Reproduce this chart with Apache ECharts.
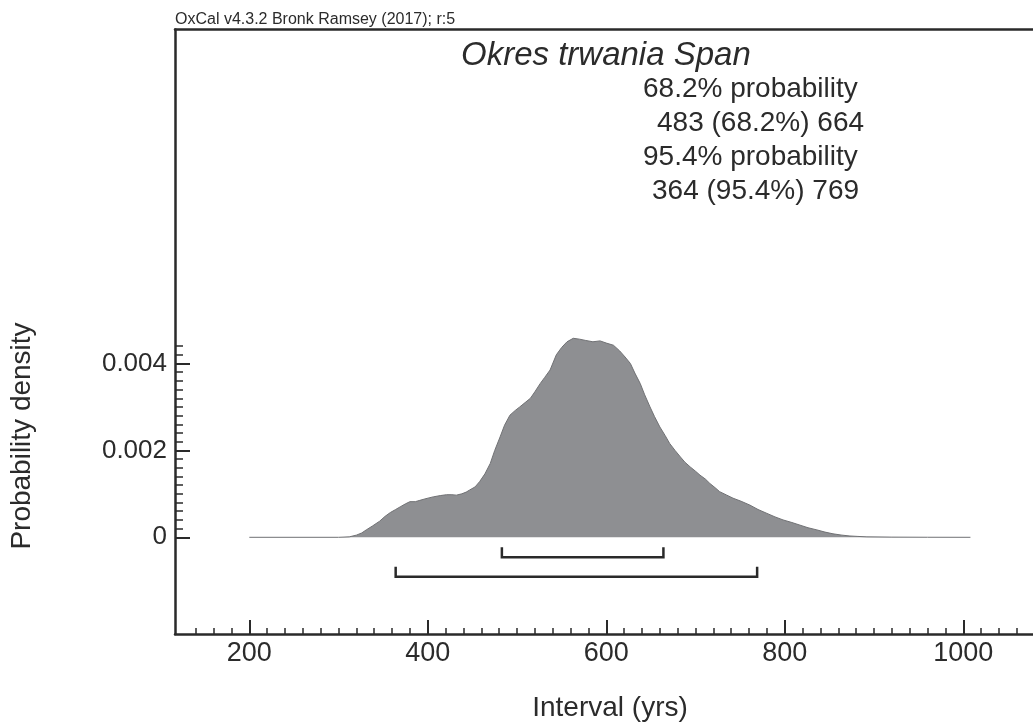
<!DOCTYPE html>
<html>
<head>
<meta charset="utf-8">
<script src="https://cdn.jsdelivr.net/npm/echarts@6/dist/echarts.min.js"></script>
<style>
html,body{margin:0;padding:0;background:#fff;}
#chart{width:1033px;height:724px;}
</style>
</head>
<body>
<div id="chart"></div>
<script>
// ---- data ----
var spanYears = [200, 300, 312, 320, 326, 331, 338, 346, 352, 358, 364, 369, 375, 380, 386, 391, 398, 406, 414, 421, 427, 432, 438, 443, 447, 453, 458, 464, 470, 475, 481, 486, 492, 498, 503, 509, 515, 520, 526, 531, 537, 544, 550, 556, 563, 570, 577, 585, 593, 600, 608, 615, 621, 627, 632, 638, 643, 649, 654, 660, 666, 671, 677, 683, 688, 694, 700, 705, 711, 716, 722, 727, 735, 742, 751, 761, 770, 780, 789, 798, 808, 817, 826, 836, 845, 854, 864, 873, 882, 892, 920, 960, 1008];
var spanDensity = [0, 0, 0.00001, 0.00005, 0.0001, 0.00017, 0.00026, 0.00037, 0.00048, 0.00057, 0.00064, 0.0007, 0.00077, 0.00082, 0.00082, 0.00085, 0.00089, 0.00093, 0.00096, 0.00098, 0.00098, 0.00097, 0.001, 0.00104, 0.00109, 0.00116, 0.00128, 0.00146, 0.0017, 0.002, 0.00231, 0.00258, 0.00281, 0.00292, 0.003, 0.0031, 0.0032, 0.00335, 0.00354, 0.00368, 0.00385, 0.0042, 0.00437, 0.0045, 0.00458, 0.00456, 0.00453, 0.0045, 0.00452, 0.00447, 0.00442, 0.00429, 0.00415, 0.004, 0.00378, 0.00354, 0.00328, 0.003, 0.00278, 0.00254, 0.00234, 0.00216, 0.002, 0.00185, 0.00173, 0.00162, 0.00152, 0.00143, 0.00134, 0.00124, 0.00114, 0.00105, 0.00097, 0.0009, 0.00083, 0.00074, 0.00064, 0.00055, 0.00047, 0.0004, 0.00034, 0.00028, 0.00022, 0.00017, 0.00012, 0.00008, 0.00005, 0.00003, 0.00002, 0.00001, 0.000004, 0.000001, 0];
var range68 = [483, 664];
var range95 = [364, 769];
var xTickLabels = [200, 400, 600, 800, 1000];
var yTickLabels = [0, 0.002, 0.004];

// ---- derived ----
var curve = spanYears.map(function (x, i) { return [x, spanDensity[i]]; });
var xMinor = [];
for (var v = 140; v <= 1060; v += 20) { if (v % 200 !== 0) xMinor.push(v); }
var yMinor = [];
for (var k = 1; k <= 22; k++) { if (k % 10 !== 0) yMinor.push(+(k * 0.0002).toFixed(4)); }

var lvl68 = [-0.00023, -0.00046];
var lvl95 = [-0.00068, -0.00091];
function bracket(r, lv) {
  return [[r[0], lv[0]], [r[0], lv[1]], [r[1], lv[1]], [r[1], lv[0]]];
}

var FONT = '"Liberation Sans", Arial, Helvetica, sans-serif';
var TXT = '#2b2b2b';
var AX = '#2a2a2a';

var chart = echarts.init(document.getElementById('chart'), null, {renderer: 'canvas'});
var xMin = 116.75, xMax = 1078.1;
var yMin = -0.0022256, yMax = 0.011687;

var option = {
  animation: false,
  backgroundColor: '#ffffff',
  grid: {left: 175, top: 29.5, right: 0, bottom: 90, containLabel: false},
  xAxis: [
    {
      type: 'value', min: xMin, max: xMax, position: 'bottom',
      axisLine: {show: true, onZero: false, lineStyle: {color: AX, width: 2.5}},
      axisTick: {show: true, inside: true, length: 14, customValues: xTickLabels, lineStyle: {color: AX, width: 2}},
      axisLabel: {show: true, customValues: xTickLabels, margin: 6, fontSize: 27, color: TXT, fontFamily: FONT,
        formatter: function (val) { return String(val); }},
      splitLine: {show: false}
    },
    {
      type: 'value', min: xMin, max: xMax, position: 'bottom',
      axisLine: {show: false, onZero: false},
      axisTick: {show: true, inside: true, length: 6, customValues: xMinor, lineStyle: {color: AX, width: 1.5}},
      axisLabel: {show: false},
      splitLine: {show: false}
    },
    {
      type: 'value', min: xMin, max: xMax, position: 'top',
      axisLine: {show: true, onZero: false, lineStyle: {color: AX, width: 2.5}},
      axisTick: {show: false}, axisLabel: {show: false}, splitLine: {show: false}
    }
  ],
  yAxis: [
    {
      type: 'value', min: yMin, max: yMax, position: 'left',
      axisLine: {show: true, onZero: false, lineStyle: {color: AX, width: 2.5}},
      axisTick: {show: true, inside: true, length: 15, customValues: yTickLabels, lineStyle: {color: AX, width: 2}},
      axisLabel: {show: true, customValues: yTickLabels, margin: 8, fontSize: 26, color: TXT, fontFamily: FONT,
        formatter: function (val) { return String(val); }},
      splitLine: {show: false}
    },
    {
      type: 'value', min: yMin, max: yMax, position: 'left',
      axisLine: {show: false, onZero: false},
      axisTick: {show: true, inside: true, length: 8, customValues: yMinor, lineStyle: {color: AX, width: 1.5}},
      axisLabel: {show: false},
      splitLine: {show: false}
    }
  ],
  series: [
    {
      type: 'line', xAxisIndex: 0, yAxisIndex: 0, data: curve, showSymbol: false, symbol: 'none',
      lineStyle: {color: '#707174', width: 1},
      areaStyle: {color: '#8e8f92', opacity: 1, origin: 'auto'},
      z: 2
    },
    {
      type: 'line', xAxisIndex: 0, yAxisIndex: 0, data: bracket(range68, lvl68), showSymbol: false, symbol: 'none',
      lineStyle: {color: '#2a2a2a', width: 2.5, join: 'miter'}, z: 3
    },
    {
      type: 'line', xAxisIndex: 0, yAxisIndex: 0, data: bracket(range95, lvl95), showSymbol: false, symbol: 'none',
      lineStyle: {color: '#2a2a2a', width: 2.5, join: 'miter'}, z: 3
    }
  ],
  graphic: [
    {type: 'text', left: 175, top: 12, style: {text: 'OxCal v4.3.2 Bronk Ramsey (2017); r:5', font: '16px ' + FONT, fill: TXT}},
    {type: 'text', x: 461, y: 56, style: {text: 'Okres trwania Span', font: 'italic 33px ' + FONT, fill: TXT, textAlign: 'left', textVerticalAlign: 'middle'}},
    {type: 'text', x: 643, y: 89, style: {text: '68.2% probability', font: '28px ' + FONT, fill: TXT, textAlign: 'left', textVerticalAlign: 'middle'}},
    {type: 'text', x: 657, y: 123, style: {text: range68[0] + ' (68.2%) ' + range68[1], font: '28px ' + FONT, fill: TXT, textAlign: 'left', textVerticalAlign: 'middle'}},
    {type: 'text', x: 643, y: 157, style: {text: '95.4% probability', font: '28px ' + FONT, fill: TXT, textAlign: 'left', textVerticalAlign: 'middle'}},
    {type: 'text', x: 652, y: 191, style: {text: range95[0] + ' (95.4%) ' + range95[1], font: '28px ' + FONT, fill: TXT, textAlign: 'left', textVerticalAlign: 'middle'}},
    {type: 'text', x: 610, y: 708, style: {text: 'Interval (yrs)', font: '28px ' + FONT, fill: TXT, textAlign: 'center', textVerticalAlign: 'middle'}},
    {type: 'text', x: 22.5, y: 436, rotation: Math.PI / 2, style: {text: 'Probability density', font: '28px ' + FONT, fill: TXT, textAlign: 'center', textVerticalAlign: 'middle'}}
  ]
};
chart.setOption(option);
</script>
</body>
</html>
